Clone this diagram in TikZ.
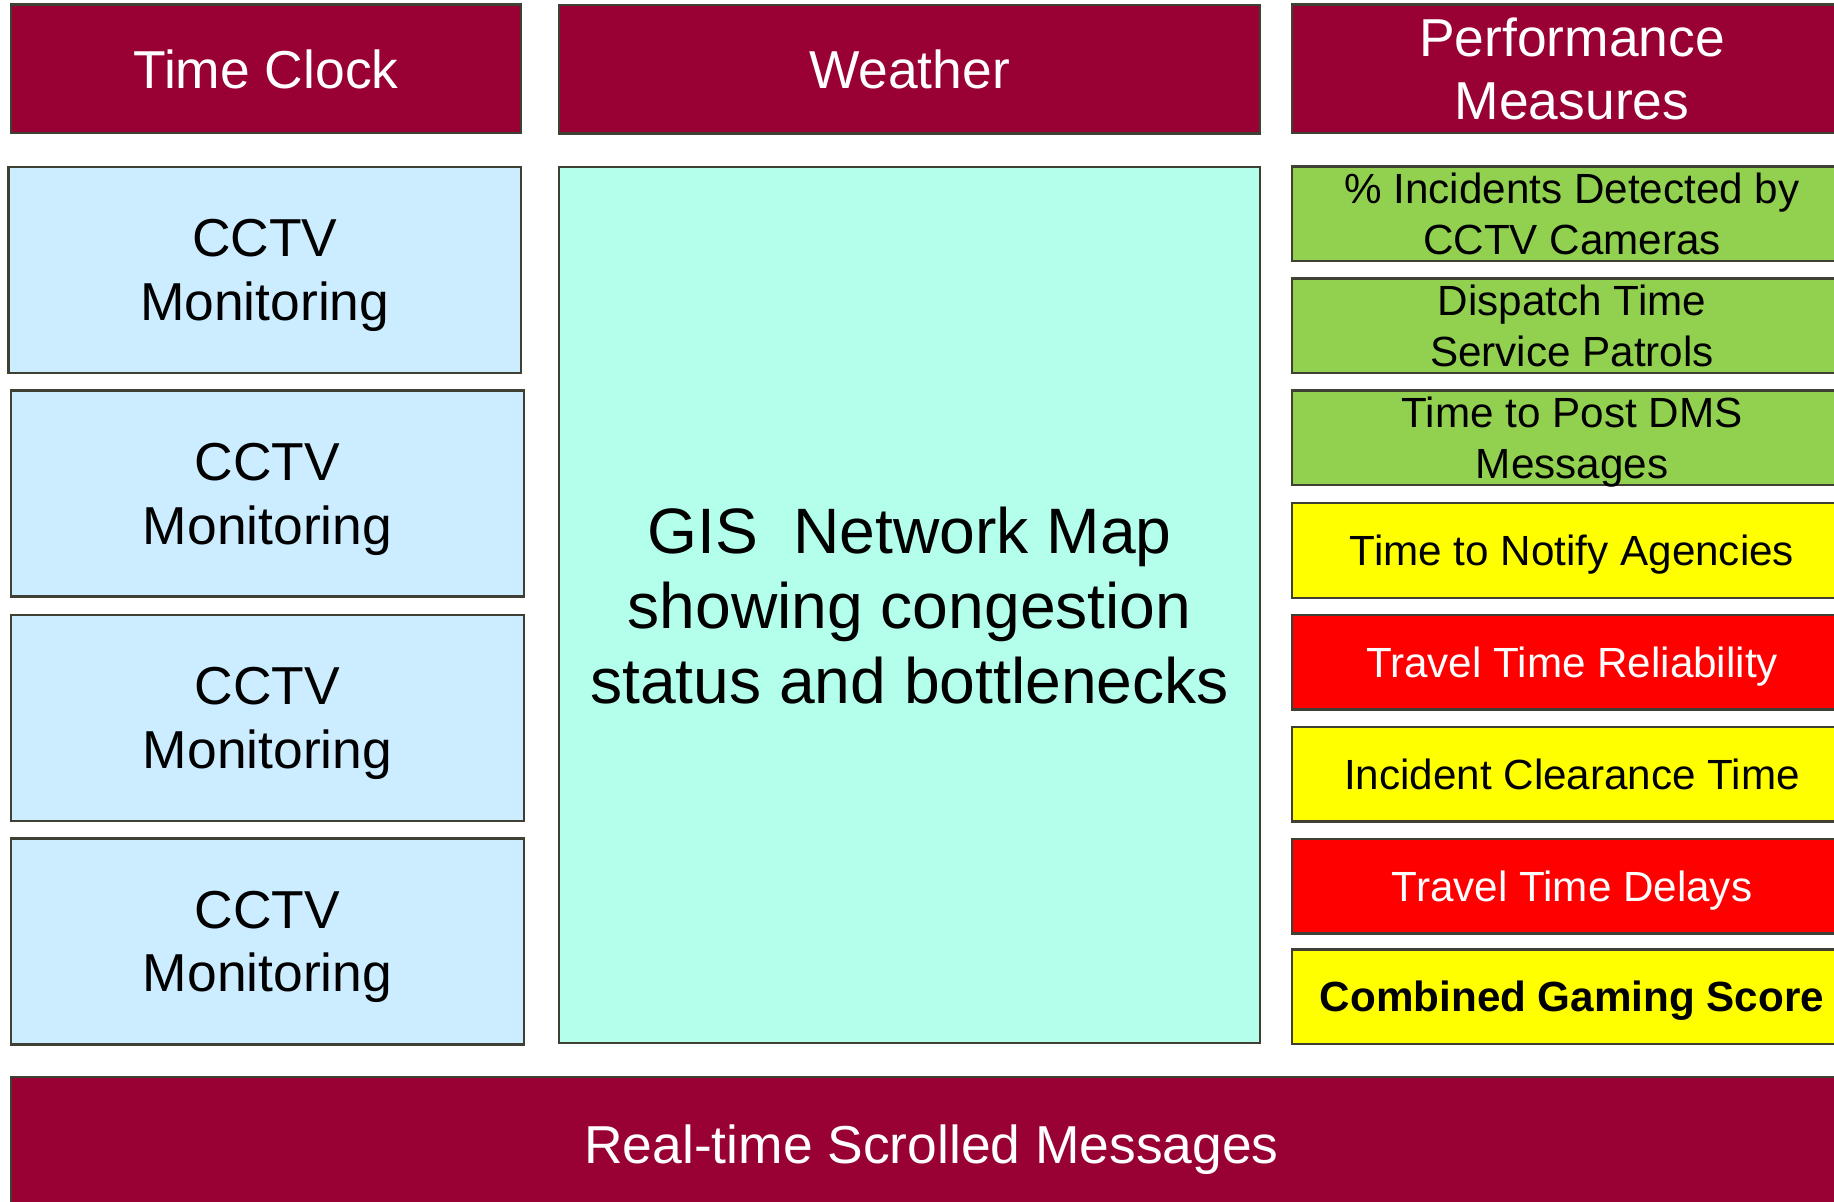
\documentclass[tikz,border=0pt]{standalone}
\usepackage{fontspec}
\setmainfont{Liberation Sans}
\definecolor{maroon}{HTML}{990033}
\definecolor{cctvblue}{HTML}{CCECFF}
\definecolor{gisaqua}{HTML}{B3FFEC}
\definecolor{pmgreen}{HTML}{92D050}
\definecolor{pmyellow}{HTML}{FFFF00}
\definecolor{pmred}{HTML}{FF0000}
\definecolor{edge}{HTML}{3F3F34}
\tikzset{
  box/.style={draw=edge, line width=1.25pt, rectangle, inner sep=0pt, align=center, anchor=center, text depth=0pt},
  bigtxt/.style={font=\fontsize{26.7}{31.8}\selectfont},
  gistxt/.style={font=\fontsize{32.1}{37.5}\selectfont},
  smalltxt/.style={font=\fontsize{21.1}{25.5}\selectfont},
  header/.style={box, fill=maroon, text=white, bigtxt},
  cctv/.style={box, fill=cctvblue, text=black, bigtxt, minimum width=256.5pt, minimum height=103pt},
  pm/.style={box, smalltxt, minimum width=280pt, minimum height=47.25pt},
}
\begin{document}
\begin{tikzpicture}[x=0.5pt, y=-0.5pt]
\useasboundingbox (0,0) rectangle (1834,1202);
\clip (0,0) rectangle (1834,1202);
% top row
\node[header, minimum width=255pt, minimum height=64.25pt] (tc) at (266,68.75) {Time Clock};
\node[header, minimum width=350.5pt, minimum height=64.25pt] (wx) at (909.5,69.5) {Weather};
\node[header, minimum width=280pt, minimum height=64.25pt] (pmh) at (1572,68.75) {Performance\\Measures};
% CCTV column
\node[cctv, minimum width=256.25pt] (c1) at (264.75,270) {CCTV\\Monitoring};
\node[cctv] (c2) at (267.5,493.6) {CCTV\\Monitoring};
\node[cctv] (c3) at (267.5,718) {CCTV\\Monitoring};
\node[cctv] (c4) at (267.5,941.5) {CCTV\\Monitoring};
% GIS
\node[box, fill=gisaqua, gistxt, minimum width=350.5pt, minimum height=438pt] (gis) at (909.5,605) {GIS\ \ Network Map\\showing congestion\\status and bottlenecks};
% performance measures
\node[pm, fill=pmgreen] (m1) at (1572,214) {\% Incidents Detected by\\CCTV Cameras};
\node[pm, fill=pmgreen] (m2) at (1572,326) {Dispatch Time\\Service Patrols};
\node[pm, fill=pmgreen] (m3) at (1572,438) {Time to Post DMS\\Messages};
\node[pm, fill=pmyellow] (m4) at (1572,550.5) {Time to Notify Agencies};
\node[pm, fill=pmred, text=white] (m5) at (1572,662) {Travel Time Reliability};
\node[pm, fill=pmyellow] (m6) at (1572,774) {Incident Clearance Time};
\node[pm, fill=pmred, text=white] (m7) at (1572,886) {Travel Time Delays};
\node[pm, fill=pmyellow, font=\fontsize{21.1}{25.5}\selectfont\bfseries] (m8) at (1572,996.5) {Combined Gaming Score};
% banner
\node[header, minimum width=920.5pt, minimum height=67pt] (msg) at (931.5,1144) {Real-time Scrolled Messages};
\end{tikzpicture}
\end{document}
